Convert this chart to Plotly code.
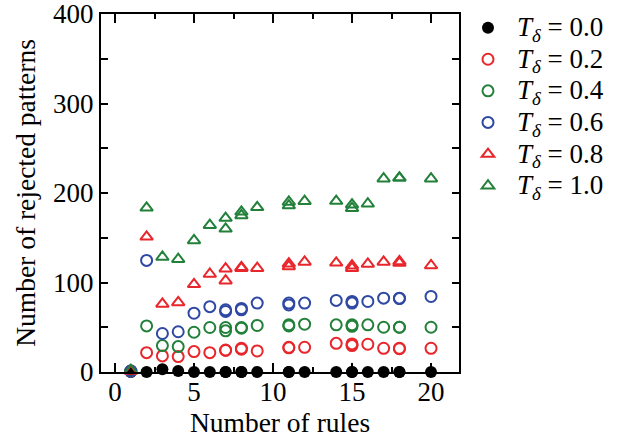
import plotly.graph_objects as go

# Data
rules = [1, 2, 3, 4, 5, 6, 7, 7, 8, 8, 9, 11, 11, 12, 14, 15, 15, 16, 17, 18, 18, 20]
t00 = [0, 0, 3, 1, 0, 0, 0, 0, 0, 0, 0, 0, 0, 0, 0, 0, 0, 0, 0, 0, 0, 0]
t02 = [1, 21.6, 18, 17.2, 22.8, 21.6, 24.6, 24, 26.5, 25.4, 23.5, 27.6, 27, 27.6, 32, 31.4, 29.5, 31, 26.5, 26.5, 26, 26.5]
t04 = [1, 51.5, 29.5, 28.4, 44.4, 49.7, 49.7, 46, 49.7, 49, 52, 52.7, 51.5, 53.4, 52.7, 52.7, 51, 52.7, 50, 50, 50, 50]
t06 = [1, 124.7, 43, 45, 65.7, 73, 69.5, 67.6, 71, 69.5, 77, 77, 75, 77, 80, 78.8, 77, 78.8, 82.5, 82.5, 82, 84.4]
t08 = [1, 151, 76, 77.7, 98, 109.5, 115.4, 102, 117, 116, 116, 121, 118, 123, 122, 118.8, 116, 120.7, 123, 123.6, 121.8, 119]
t10 = [2, 183.4, 128.5, 126, 147, 164, 172, 160, 179, 175, 184, 190, 186, 190.8, 191, 187, 183, 188, 216, 217, 217, 216]

labels = ["0.0", "0.2", "0.4", "0.6", "0.8", "1.0"]

RED = "#e8262b"
GREEN = "#23803a"
BLUE = "#2f48a4"

series = [
    (t00, "circle", "black", True),
    (t02, "circle-open", RED, False),
    (t04, "circle-open", GREEN, False),
    (t06, "circle-open", BLUE, False),
    (t08, "triangle-up-open", RED, False),
    (t10, "triangle-up-open", GREEN, False),
]

fig = go.Figure()
for (vals, sym, col, filled), lab in zip(series, labels):
    fig.add_trace(go.Scatter(
        x=rules, y=vals, mode="markers",
        name='<span style="font-size:27px"><i>T</i><sub><i>δ</i></sub> = ' + lab + '</span>',
        cliponaxis=False,
        marker=dict(symbol=sym, size=12 if filled else 11,
                    color=col, line=dict(color=col, width=0 if filled else 2)),
    ))

font_family = "Liberation Serif, Times New Roman, serif"
fig.update_layout(
    width=624, height=439,
    margin=dict(l=101, r=165, t=14, b=67, autoexpand=False),
    paper_bgcolor="white", plot_bgcolor="white",
    font=dict(family=font_family, size=27, color="black"),
    showlegend=True,
    legend=dict(x=1.0, y=1.02, xanchor="left", yanchor="top",
                font=dict(size=22), bgcolor="rgba(0,0,0,0)",
                itemwidth=48, tracegroupgap=0),
    xaxis=dict(
        range=[-0.886, 21.77], tickmode="linear", tick0=0, dtick=5,
        ticks="inside", ticklen=9, tickwidth=2, tickcolor="black",
        minor=dict(dtick=2.5, ticks="inside", ticklen=5, tickwidth=2, tickcolor="black"),
        showline=True, linecolor="black", linewidth=2, mirror="allticks",
        showgrid=False, zeroline=False, automargin=False,
        ticklabelstandoff=-5, ticklabeloverflow="allow",
        title=dict(text="Number of rules", font=dict(size=27.5), standoff=3),
        tickfont=dict(size=27),
    ),
    yaxis=dict(
        range=[0, 400], tickmode="linear", tick0=0, dtick=100,
        ticks="inside", ticklen=7, tickwidth=2, tickcolor="black",
        minor=dict(dtick=50, ticks="inside", ticklen=7, tickwidth=2, tickcolor="black"),
        showline=True, linecolor="black", linewidth=2, mirror="allticks",
        showgrid=False, zeroline=False, automargin=False,
        ticklabelstandoff=0, ticklabeloverflow="allow",
        title=dict(text="Number of rejected patterns", font=dict(size=27.5), standoff=9),
        tickfont=dict(size=27),
    ),
)

fig.write_html("out.html", config={"displayModeBar": False},
               post_script="document.body.style.margin='0';document.body.style.padding='0';")
